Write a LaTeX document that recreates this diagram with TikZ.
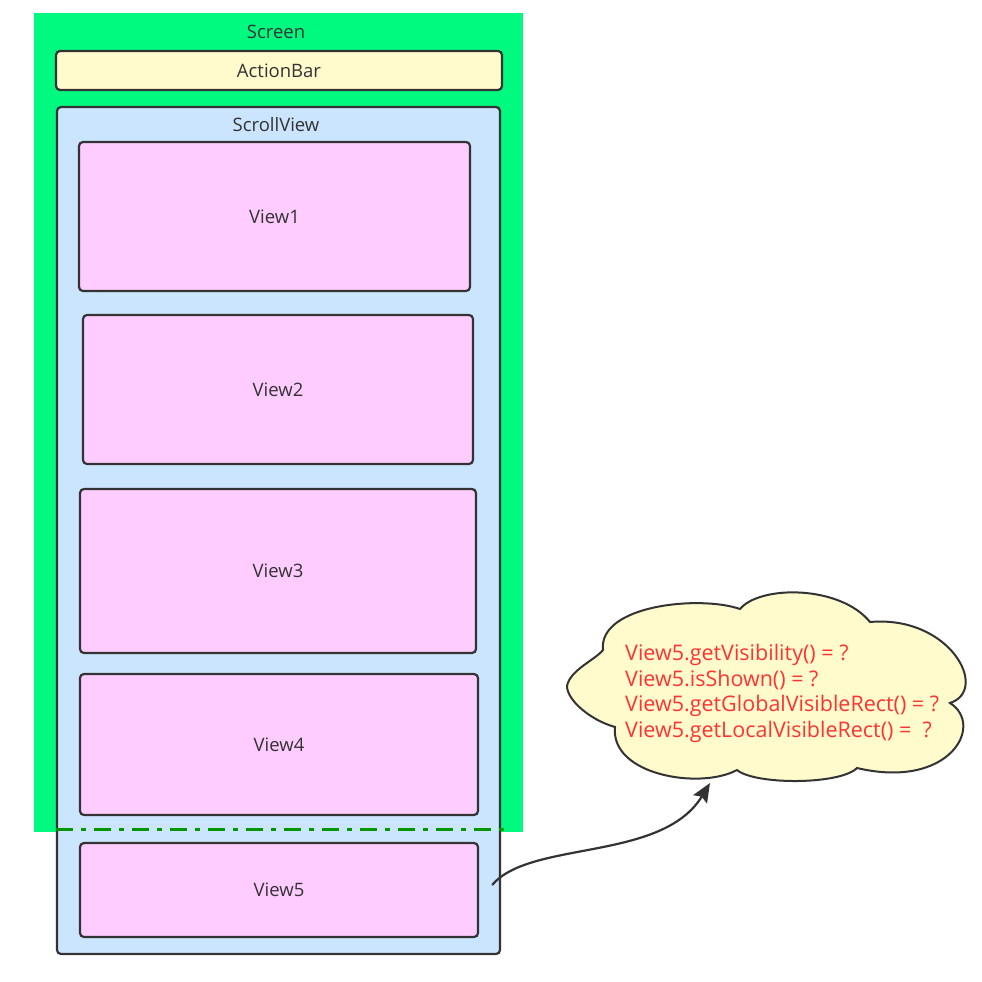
\documentclass[tikz,border=0pt]{standalone}
\usepackage{fontspec}
\setmainfont{Open Sans}
\usetikzlibrary{arrows.meta}

\definecolor{screengreen}{RGB}{0,250,128}
\definecolor{barfill}{RGB}{255,251,204}
\definecolor{scrollfill}{RGB}{204,229,255}
\definecolor{viewfill}{RGB}{255,204,255}
\definecolor{edge}{RGB}{51,51,51}
\definecolor{foldline}{RGB}{0,150,0}
\definecolor{calltext}{RGB}{255,51,51}

\begin{document}
\begin{tikzpicture}[x=1pt,y=-1pt,
  box/.style={draw=edge, line width=2.2pt, rounded corners=4pt, inner sep=0pt},
  viewbox/.style={box, fill=viewfill},
  lbl/.style={text=edge, font=\fontsize{18.5}{22}\selectfont, inner sep=0pt},
  foldstyle/.style={draw=foldline, line width=3pt,
    dash pattern=on 17pt off 8pt on 5pt off 8pt},
  link/.style={draw=edge, line width=2.2pt,
    -{Stealth[length=19pt,width=16pt,inset=3pt]}}
]
\useasboundingbox (0,0) rectangle (982,982);

% screen area
\node[fill=screengreen, minimum width=489pt, minimum height=819pt, inner sep=0pt]
  (screen) at (278.5,422.5) {};
\node[lbl] (screenlabel) at (276,32) {Screen};

% action bar
\node[box, fill=barfill, minimum width=446pt, minimum height=39pt, lbl]
  (bar) at (279,70.5) {ActionBar};

% scroll view with its children
\node[box, fill=scrollfill, minimum width=443pt, minimum height=847pt]
  (scroll) at (278.5,530.5) {};
\node[lbl] (scrolllabel) at (276,125) {ScrollView};

\node[viewbox, lbl, minimum width=391pt, minimum height=149pt] (v1) at (274.5,216.5) {View1};
\node[viewbox, lbl, minimum width=390pt, minimum height=149pt] (v2) at (278,389.5) {View2};
\node[viewbox, lbl, minimum width=396pt, minimum height=164pt] (v3) at (278,571) {View3};
\node[viewbox, lbl, minimum width=398pt, minimum height=141pt] (v4) at (279,744.5) {View4};
\node[viewbox, lbl, minimum width=398pt, minimum height=94pt] (v5) at (279,890) {View5};

% bottom edge of the visible screen
\coordinate (foldL) at (scroll.west |- 0,829);
\coordinate (foldR) at (508,829);
\draw[foldstyle] (foldL) -- (foldR);

% thought cloud
\draw[draw=edge, fill=barfill, line width=2pt]
  (603,650) .. controls (598,605) and (700,595) .. (740,609)
  .. controls (760,585) and (840,585) .. (870,622)
  .. controls (950,615) and (990,690) .. (950,703)
  .. controls (985,725) and (950,790) .. (857,768)
  .. controls (840,785) and (755,785) .. (737,770)
  .. controls (700,790) and (610,775) .. (615,727)
  .. controls (590,720) and (567,700) .. (567,686)
  .. controls (570,670) and (595,660) .. cycle;
\coordinate (cloudtip) at (710,783);

\node[anchor=west, align=left, inner sep=0pt, text=calltext,
  font=\fontsize{21.5}{25.7}\selectfont] (calls) at (625,693.5)
  {View5.getVisibility() = ?\\
   View5.isShown() = ?\\
   View5.getGlobalVisibleRect() = ?\\
   View5.getLocalVisibleRect() =~ ?};

% connector from View5 to the cloud
\coordinate (src) at ([xshift=13pt]v5.east |- 0,885);
\draw[link] (src) .. controls (530,840) and (662,862) .. (cloudtip);
\end{tikzpicture}
\end{document}
